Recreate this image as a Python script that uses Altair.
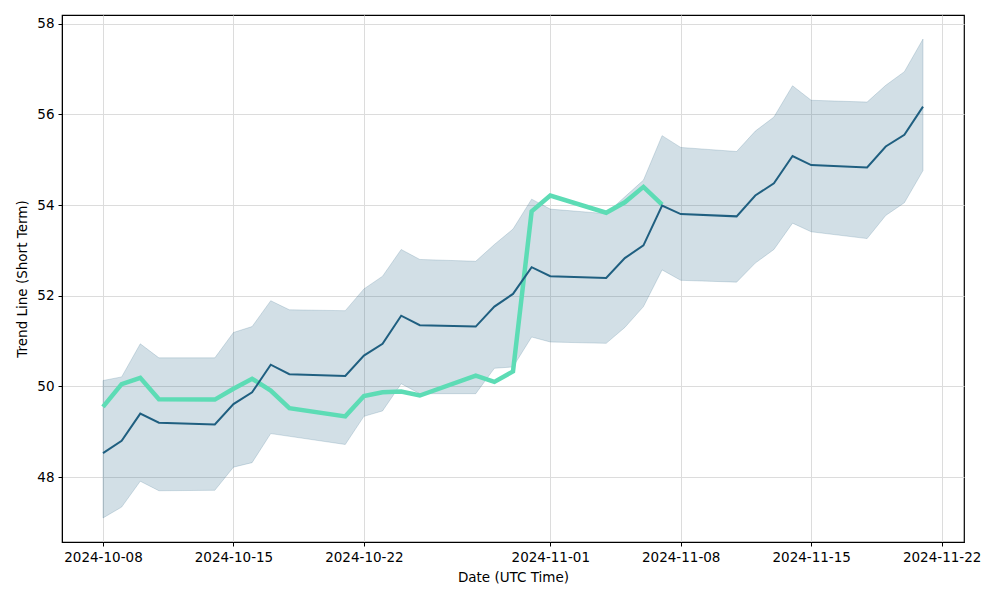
import altair as alt
import pandas as pd

dates = ["2024-10-08", "2024-10-09", "2024-10-10", "2024-10-11", "2024-10-14",
         "2024-10-15", "2024-10-16", "2024-10-17", "2024-10-18", "2024-10-21",
         "2024-10-22", "2024-10-23", "2024-10-24", "2024-10-25", "2024-10-28",
         "2024-10-29", "2024-10-30", "2024-10-31", "2024-11-01", "2024-11-04",
         "2024-11-05", "2024-11-06", "2024-11-07", "2024-11-08", "2024-11-11",
         "2024-11-12", "2024-11-13", "2024-11-14", "2024-11-15", "2024-11-18",
         "2024-11-19", "2024-11-20", "2024-11-21"]

trend = [48.53, 48.80, 49.40, 49.20, 49.16, 49.61, 49.87, 50.48, 50.27, 50.23,
         50.68, 50.94, 51.56, 51.35, 51.32, 51.76, 52.04, 52.63, 52.43, 52.39,
         52.83, 53.11, 53.99, 53.80, 53.75, 54.21, 54.48, 55.08, 54.88, 54.83,
         55.29, 55.55, 56.17]

upper = [50.13, 50.21, 50.94, 50.63, 50.63, 51.19, 51.32, 51.89, 51.69, 51.67,
         52.15, 52.43, 53.02, 52.80, 52.76, 53.13, 53.47, 54.13, 53.91, 53.81,
         54.18, 54.55, 55.53, 55.27, 55.18, 55.63, 55.94, 56.63, 56.31, 56.27,
         56.64, 56.94, 57.66]

lower = [47.10, 47.34, 47.91, 47.70, 47.71, 48.22, 48.32, 48.96, 48.90, 48.72,
         49.34, 49.46, 50.06, 49.84, 49.84, 50.40, 50.43, 51.09, 50.98, 50.95,
         51.30, 51.76, 52.57, 52.34, 52.30, 52.72, 53.02, 53.60, 53.41, 53.26,
         53.77, 54.05, 54.76]

price_dates = dates[:23]
price = [49.55, 50.05, 50.19, 49.72, 49.71, 49.95, 50.17, 49.91, 49.52, 49.34,
         49.79, 49.87, 49.89, 49.80, 50.24, 50.10, 50.33, 53.86, 54.21, 53.83,
         54.06, 54.40, 54.01]

y_ticks = [48, 50, 52, 54, 56, 58]

df = pd.DataFrame({"date": dates, "trend": trend, "upper": upper, "lower": lower})
dp = pd.DataFrame({"date": price_dates, "price": price})

FONT = "DejaVu Sans"
TREND_COLOR = "#1f5f80"

x_ticks = [alt.DateTime(year=2024, month=10, date=d, utc=True) for d in (8, 15, 22)] + \
          [alt.DateTime(year=2024, month=11, date=d, utc=True) for d in (1, 8, 15, 22)]

x_scale = alt.Scale(type="utc",
                    domain=[alt.DateTime(year=2024, month=10, date=5, hours=19, minutes=12, utc=True),
                            alt.DateTime(year=2024, month=11, date=23, hours=4, minutes=48, utc=True)])
y_scale = alt.Scale(domain=[46.57, 58.19], nice=False, zero=False)

x_axis = alt.Axis(values=x_ticks, labelExpr="utcFormat(datum.value, '%Y-%m-%d')",
                  title="Date (UTC Time)", labelAngle=0, grid=True)
y_axis = alt.Axis(values=y_ticks, title="Trend Line (Short Term)", grid=True, format="d")

band = alt.Chart(df).mark_area(color=TREND_COLOR, fillOpacity=0.2, stroke=TREND_COLOR,
                               strokeOpacity=0.18, strokeWidth=1).encode(
    x=alt.X("date:T", scale=x_scale, axis=x_axis),
    y=alt.Y("lower:Q", scale=y_scale, axis=y_axis),
    y2="upper:Q",
)

price_line = alt.Chart(dp).mark_line(color="#5ddcb5", strokeWidth=4.5).encode(
    x=alt.X("date:T", scale=x_scale, axis=x_axis),
    y=alt.Y("price:Q", scale=y_scale, axis=y_axis),
)

trend_line = alt.Chart(df).mark_line(color=TREND_COLOR, strokeWidth=2).encode(
    x=alt.X("date:T", scale=x_scale, axis=x_axis),
    y=alt.Y("trend:Q", scale=y_scale, axis=y_axis),
)

chart = (band + price_line + trend_line).properties(
    width=902, height=527,
    autosize=alt.AutoSizeParams(type="none"),
    padding={"left": 62, "top": 15, "right": 36, "bottom": 58},
).configure_view(
    stroke="black", strokeWidth=1.2
).configure_axis(
    labelFont=FONT, titleFont=FONT, labelFontSize=13.5, titleFontSize=13.5,
    labelColor="black", titleColor="black", titleFontWeight="normal",
    domainColor="black", tickColor="black", tickSize=4, labelPadding=4,
    gridColor="#dcdcdc", gridWidth=1,
).configure_axisX(
    titlePadding=7,
).configure_axisY(
    titlePadding=7,
)

chart.save("out.html", embed_options={"renderer": "svg", "actions": False})
